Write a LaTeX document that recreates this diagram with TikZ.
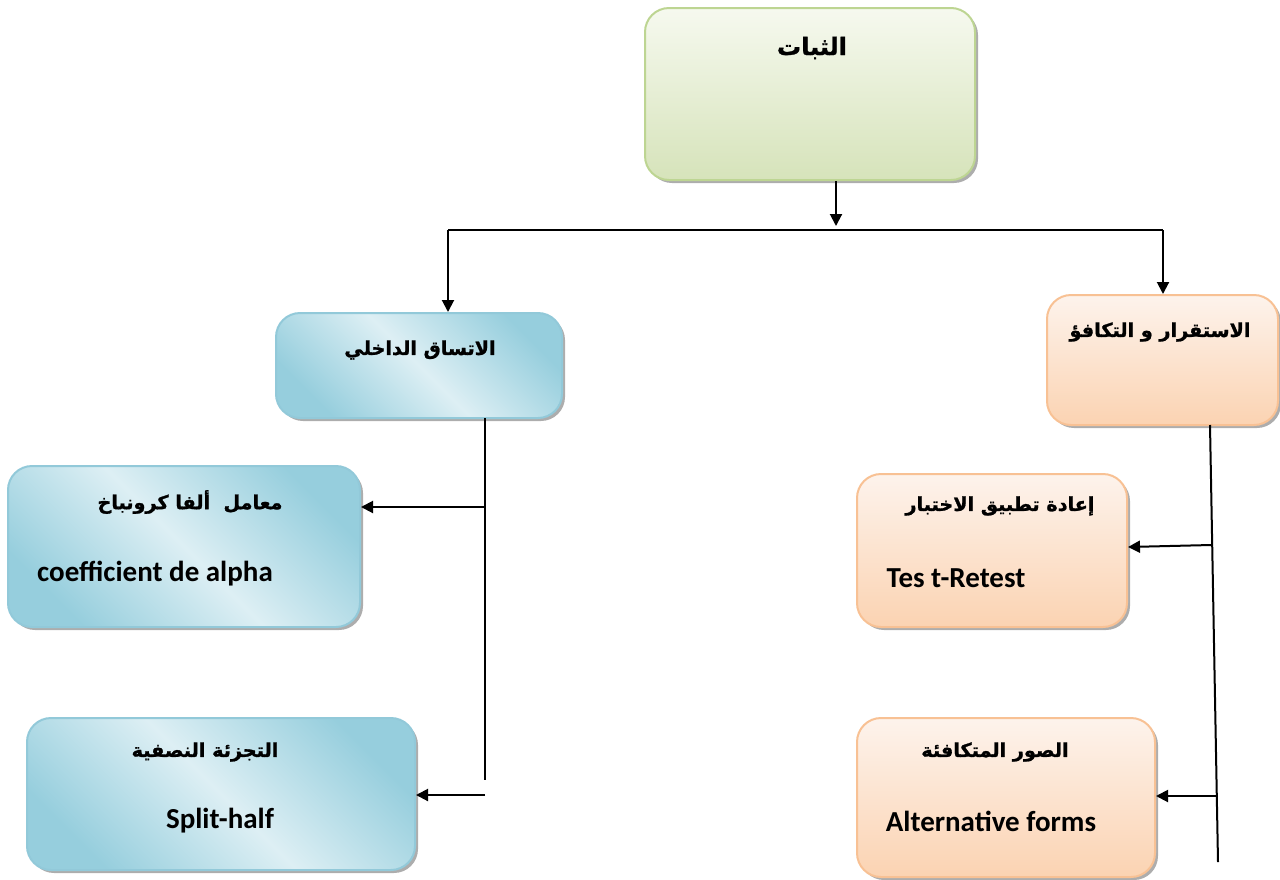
\documentclass[tikz,border=0pt]{standalone}
\usepackage{fontspec}
\setmainfont{Carlito}
\newfontfamily\arabicfont[Script=Arabic, BoldFeatures={FakeBold=1.2}]{DejaVu Sans}
\TeXXeTstate=1
\usepackage{tikz}
\usetikzlibrary{arrows.meta,calc,positioning,fit,shadows}
\definecolor{blueedge}{HTML}{92C9D9}
\definecolor{bluedark}{HTML}{96CEDD}
\definecolor{bluelight}{HTML}{DDEFF4}
\definecolor{orangeedge}{HTML}{F8C194}
\definecolor{orangelight}{HTML}{FDF3EC}
\definecolor{orangedark}{HTML}{FBD3B2}
\definecolor{greenedge}{HTML}{BDD592}
\definecolor{greenlight}{HTML}{F6F9EF}
\definecolor{greendark}{HTML}{D6E3BA}
\tikzset{
  boxbase/.style={rounded corners=12pt, inner sep=0pt, line width=1pt,
    drop shadow={shadow xshift=1.5pt, shadow yshift=-1.5pt, fill=black!40, opacity=0.8}},
  bluebox/.style={boxbase, draw=blueedge, top color=bluedark, bottom color=bluedark, middle color=bluelight, shading angle=-45},
  orangebox/.style={boxbase, draw=orangeedge, top color=orangelight, bottom color=orangedark},
  greenbox/.style={boxbase, draw=greenedge, top color=greenlight, bottom color=greendark},
  artext/.style={font=\arabicfont\bfseries\fontsize{9.6}{11}\selectfont, inner sep=0pt},
  latext/.style={font=\bfseries\fontsize{14.5}{16}\selectfont, inner sep=0pt},
  link/.style={line width=1pt, black},
  arr/.style={link, -{Triangle[length=6pt,width=6pt]}}
}
\begin{document}
\begin{tikzpicture}[x=0.5pt,y=-0.5pt]
\useasboundingbox (0,0) rectangle (1280,879);
% boxes
\node[greenbox, fit={(645,8) (975,180)}] (stab) {};
\node[bluebox, fit={(276,313) (562,418)}] (internal) {};
\node[orangebox, fit={(1047,295) (1278,425)}] (equiv) {};
\node[bluebox, fit={(8,466) (360,627)}] (alpha) {};
\node[bluebox, fit={(27,718) (415,870)}] (split) {};
\node[orangebox, fit={(857,474) (1127,627)}] (retest) {};
\node[orangebox, fit={(857,718) (1155,877)}] (altforms) {};
% texts
\node[artext, font=\arabicfont\bfseries\fontsize{12}{15}\selectfont] (stabtxt) at (812,48) {\beginR الثبات\endR};
\node[artext] (internaltxt) at (420,350) {\beginR الاتساق الداخلي\endR};
\node[artext] (equivtxt) at (1160,332) {\beginR الاستقرار و التكافؤ\endR};
\node[artext] (alphatxt) at (190,502) {\beginR معامل~~ألفا كرونباخ\endR};
\node[latext] (alphalat) at (155,574) {coefficient de alpha};
\node[artext] (retesttxt) at (1000,506) {\beginR إعادة تطبيق الاختبار\endR};
\node[latext] (retestlat) at (956,578) {Tes t-Retest};
\node[artext] (splittxt) at (205,752) {\beginR التجزئة النصفية\endR};
\node[latext] (splitlat) at (220,821) {Split-half};
\node[artext] (alttxt) at (995,752) {\beginR الصور المتكافئة\endR};
\node[latext] (altlat) at (991,821) {Alternative forms};
% connectors
\coordinate (jc) at (836,230);
\coordinate (jl) at (448,230);
\coordinate (jr) at (1163,230);
\draw[arr, shorten >=2pt] (stab.south -| jc) -- (jc);
\draw[link] (jl) -- (jr);
\draw[arr] (jl) -- (jl |- internal.north);
\draw[arr] (jr) -- (jr |- equiv.north);
% left trunk
\coordinate (lt) at (485,418);
\coordinate (lb) at (485,780);
\coordinate (la) at (485,507);
\coordinate (ls) at (485,795);
\draw[link] (lt) -- (lb);
\draw[arr] (la) -- (la -| alpha.east);
\draw[arr] (ls) -- (ls -| split.east);
% right trunk
\coordinate (rt) at (1210,425);
\coordinate (rb) at (1218,862);
\coordinate (ra) at (1211,545);
\coordinate (rs) at (1218,796);
\draw[link] (rt) -- (rb);
\draw[arr] (ra) -- (retest.east |- 0,547);
\draw[arr] (rs) -- (rs -| altforms.east);
\end{tikzpicture}
\end{document}
